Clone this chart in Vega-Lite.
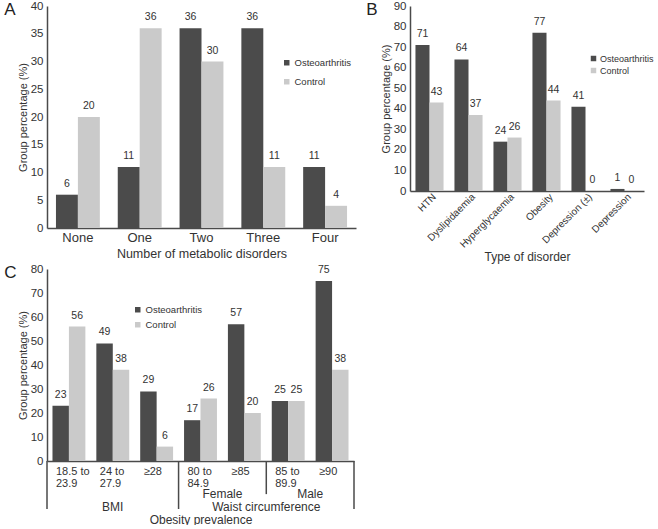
{
  "$schema": "https://vega.github.io/schema/vega-lite/v6.json",
  "padding": {"left": 4, "top": 0, "right": 0, "bottom": 0},
  "background": "white",
  "config": {
    "font": "Liberation Sans",
    "view": {"stroke": null},
    "axis": {"domainColor": "#4a4a4a", "domainWidth": 1.5, "ticks": false, "grid": false, "labelColor": "#333333", "labelFontSize": 11.5, "titleColor": "#333333", "titleFontWeight": "normal", "titleFontSize": 12, "labelPadding": 4, "labelOverlap": false},
    "axisY": {"titleFontSize": 11, "titlePadding": 2},
    "legend": {"symbolType": "square", "symbolSize": 30, "labelFontSize": 9.5, "labelColor": "#333333", "symbolStrokeWidth": 0, "labelOffset": 3, "padding": 0},
    "title": {"fontWeight": "normal", "fontSize": 17, "color": "#222222", "anchor": "start", "frame": "bounds"}
  },
  "datasets": {
    "a": [
      {"cat": "None", "group": "Osteoarthritis", "value": 6},
      {"cat": "None", "group": "Control", "value": 20},
      {"cat": "One", "group": "Osteoarthritis", "value": 11},
      {"cat": "One", "group": "Control", "value": 36},
      {"cat": "Two", "group": "Osteoarthritis", "value": 36},
      {"cat": "Two", "group": "Control", "value": 30},
      {"cat": "Three", "group": "Osteoarthritis", "value": 36},
      {"cat": "Three", "group": "Control", "value": 11},
      {"cat": "Four", "group": "Osteoarthritis", "value": 11},
      {"cat": "Four", "group": "Control", "value": 4}
    ],
    "b": [
      {"cat": "HTN", "group": "Osteoarthritis", "value": 71},
      {"cat": "HTN", "group": "Control", "value": 43},
      {"cat": "Dyslipidaemia", "group": "Osteoarthritis", "value": 64},
      {"cat": "Dyslipidaemia", "group": "Control", "value": 37},
      {"cat": "Hyperglycaemia", "group": "Osteoarthritis", "value": 24},
      {"cat": "Hyperglycaemia", "group": "Control", "value": 26},
      {"cat": "Obesity", "group": "Osteoarthritis", "value": 77},
      {"cat": "Obesity", "group": "Control", "value": 44},
      {"cat": "Depression (±)", "group": "Osteoarthritis", "value": 41},
      {"cat": "Depression (±)", "group": "Control", "value": 0},
      {"cat": "Depression", "group": "Osteoarthritis", "value": 1},
      {"cat": "Depression", "group": "Control", "value": 0}
    ],
    "c": [
      {"cat": "18.5 to 23.9", "group": "Osteoarthritis", "value": 23},
      {"cat": "18.5 to 23.9", "group": "Control", "value": 56},
      {"cat": "24 to 27.9", "group": "Osteoarthritis", "value": 49},
      {"cat": "24 to 27.9", "group": "Control", "value": 38},
      {"cat": "≥28", "group": "Osteoarthritis", "value": 29},
      {"cat": "≥28", "group": "Control", "value": 6},
      {"cat": "80 to 84.9", "group": "Osteoarthritis", "value": 17},
      {"cat": "80 to 84.9", "group": "Control", "value": 26},
      {"cat": "≥85", "group": "Osteoarthritis", "value": 57},
      {"cat": "≥85", "group": "Control", "value": 20},
      {"cat": "85 to 89.9", "group": "Osteoarthritis", "value": 25},
      {"cat": "85 to 89.9", "group": "Control", "value": 25},
      {"cat": "≥90", "group": "Osteoarthritis", "value": 75},
      {"cat": "≥90", "group": "Control", "value": 38}
    ],
    "cRules": [
      {"pos": 0, "value": 0, "value2": -20},
      {"pos": 3, "value": 0, "value2": -20},
      {"pos": 5, "value": 0, "value2": -13.8},
      {"pos": 7, "value": 0, "value2": -20}
    ],
    "cText": [
      {"pos": 4, "value": -13.8, "label": "Female"},
      {"pos": 6, "value": -13.8, "label": "Male"},
      {"pos": 1.5, "value": -19.2, "label": "BMI"},
      {"pos": 5, "value": -19.2, "label": "Waist circumference"}
    ]
  },
  "vconcat": [
    {
      "hconcat": [
        {
          "width": 309, "height": 222,
          "title": {"text": "A", "offset": -19, "dx": -13},
          "data": {"name": "a"},
          "encoding": {
            "x": {"field": "cat", "type": "nominal", "sort": null, "scale": {"paddingInner": 0.29, "paddingOuter": 0.145},
                  "axis": {"title": "Number of metabolic disorders", "labelAngle": 0, "labelFontSize": 13, "labelPadding": 3, "titlePadding": 3, "titleFontSize": 12.5}},
            "xOffset": {"field": "group", "type": "nominal", "sort": ["Osteoarthritis", "Control"]},
            "y": {"field": "value", "type": "quantitative", "scale": {"domain": [0, 40], "nice": false},
                  "axis": {"title": "Group percentage (%)", "values": [0, 5, 10, 15, 20, 25, 30, 35, 40]}}
          },
          "layer": [
            {"mark": "bar", "encoding": {"color": {"field": "group", "type": "nominal", "sort": ["Osteoarthritis", "Control"],
              "scale": {"domain": ["Osteoarthritis", "Control"], "range": ["#4b4b4b", "#cacaca"]},
              "legend": {"title": null, "orient": "none", "legendX": 235, "legendY": 52, "rowPadding": 8}}}},
            {"mark": {"type": "text", "baseline": "bottom", "dy": -6, "fontSize": 10.5, "color": "#333333"},
             "encoding": {"text": {"field": "value", "type": "quantitative"}}}
          ]
        },
        {
          "width": 234, "height": 185,
          "title": {"text": "B", "offset": -19, "dx": -14},
          "data": {"name": "b"},
          "encoding": {
            "x": {"field": "cat", "type": "nominal", "sort": null, "scale": {"paddingInner": 0.28, "paddingOuter": 0.14},
                  "axis": {"title": "Type of disorder", "labelAngle": -45, "labelAlign": "right", "labelBaseline": "middle", "labelFontSize": 10, "labelOffset": 5, "labelPadding": 4, "titlePadding": 2}},
            "xOffset": {"field": "group", "type": "nominal", "sort": ["Osteoarthritis", "Control"]},
            "y": {"field": "value", "type": "quantitative", "scale": {"domain": [0, 90], "nice": false},
                  "axis": {"title": "Group percentage (%)", "values": [0, 10, 20, 30, 40, 50, 60, 70, 80, 90]}}
          },
          "layer": [
            {"mark": "bar", "encoding": {"color": {"field": "group", "type": "nominal", "sort": ["Osteoarthritis", "Control"],
              "scale": {"domain": ["Osteoarthritis", "Control"], "range": ["#4b4b4b", "#cacaca"]},
              "legend": {"title": null, "orient": "none", "legendX": 179, "legendY": 48, "rowPadding": 2, "labelFontSize": 9, "labelOffset": 2}}}},
            {"mark": {"type": "text", "baseline": "bottom", "dy": -6, "fontSize": 10.5, "color": "#333333"},
             "encoding": {"text": {"field": "value", "type": "quantitative"}}}
          ]
        }
      ],
      "spacing": 10,
      "resolve": {"scale": {"color": "independent", "x": "independent", "y": "independent", "xOffset": "independent"}, "legend": {"color": "independent"}}
    },
    {
      "width": 307, "height": 192,
      "title": {"text": "C", "offset": -19, "dx": -13},
      "resolve": {"scale": {"x": "independent"}},
      "layer": [
        {
          "data": {"name": "c"},
          "encoding": {
            "x": {"field": "cat", "type": "nominal", "sort": null, "scale": {"paddingInner": 0.25, "paddingOuter": 0.125},
                  "axis": {"title": "Obesity prevalence", "labelAngle": 0, "labelAlign": "left", "labelBaseline": "top", "labelOffset": -13, "labelFontSize": 11, "labelLineHeight": 12, "labelPadding": 4, "titlePadding": 26, "titleFontSize": 12,
                           "labelExpr": "split(replace(datum.label, 'to ', 'to|'), '|')"}},
            "xOffset": {"field": "group", "type": "nominal", "sort": ["Osteoarthritis", "Control"]},
            "y": {"field": "value", "type": "quantitative", "scale": {"domain": [0, 80], "nice": false},
                  "axis": {"title": "Group percentage (%)", "values": [0, 10, 20, 30, 40, 50, 60, 70, 80]}}
          },
          "layer": [
            {"mark": "bar", "encoding": {"color": {"field": "group", "type": "nominal", "sort": ["Osteoarthritis", "Control"],
              "scale": {"domain": ["Osteoarthritis", "Control"], "range": ["#4b4b4b", "#cacaca"]},
              "legend": {"title": null, "orient": "none", "legendX": 86, "legendY": 36, "rowPadding": 4}}}},
            {"mark": {"type": "text", "baseline": "bottom", "dy": -6, "fontSize": 10.5, "color": "#333333"},
             "encoding": {"text": {"field": "value", "type": "quantitative"}}}
          ]
        },
        {
          "data": {"name": "cRules"},
          "mark": {"type": "rule", "color": "#4a4a4a", "strokeWidth": 1.5},
          "encoding": {
            "x": {"field": "pos", "type": "quantitative", "scale": {"domain": [0, 7], "nice": false, "zero": false}, "axis": null},
            "y": {"field": "value", "type": "quantitative", "scale": {"domain": [0, 80], "nice": false},
                  "axis": {"title": "Group percentage (%)", "values": [0, 10, 20, 30, 40, 50, 60, 70, 80]}},
            "y2": {"field": "value2"}
          }
        },
        {
          "data": {"name": "cText"},
          "mark": {"type": "text", "fontSize": 12, "color": "#333333", "baseline": "middle"},
          "encoding": {
            "x": {"field": "pos", "type": "quantitative", "scale": {"domain": [0, 7], "nice": false, "zero": false}, "axis": null},
            "y": {"field": "value", "type": "quantitative", "scale": {"domain": [0, 80], "nice": false},
                  "axis": {"title": "Group percentage (%)", "values": [0, 10, 20, 30, 40, 50, 60, 70, 80]}},
            "text": {"field": "label"}
          }
        }
      ]
    }
  ],
  "spacing": 0,
  "resolve": {"scale": {"color": "independent", "x": "independent", "y": "independent", "xOffset": "independent"}, "legend": {"color": "independent"}}
}
